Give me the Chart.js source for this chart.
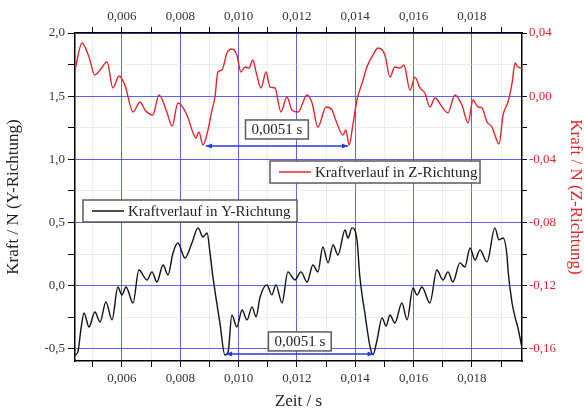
<!DOCTYPE html>
<html>
<head>
<meta charset="utf-8">
<script src="https://cdn.jsdelivr.net/npm/chart.js@4/dist/chart.umd.min.js"></script>
<style>
  html, body { margin: 0; padding: 0; background: #fff; }
  #wrap { width: 584px; height: 410px; }
</style>
</head>
<body>
<div id="wrap"><canvas id="forceChart" width="584" height="410"></canvas></div>
<script>
// Kraftverlauf in Z-Richtung (right axis, N)
const zTime = [
    0.00439, 0.00463, 0.00487, 0.00507, 0.00525, 0.00549, 0.00569, 0.00590, 0.00610, 0.00638,
    0.00662, 0.00679, 0.00706, 0.00727, 0.00754, 0.00772, 0.00792, 0.00823, 0.00844, 0.00854,
    0.00864, 0.00878, 0.00895, 0.00909, 0.00919, 0.00929, 0.00943, 0.00960, 0.00977, 0.00994,
    0.01008, 0.01022, 0.01036, 0.01049, 0.01060, 0.01077, 0.01094, 0.01108, 0.01125, 0.01145,
    0.01166, 0.01183, 0.01204, 0.01235, 0.01252, 0.01272, 0.01300, 0.01320, 0.01337, 0.01358,
    0.01368, 0.01379, 0.01392, 0.01406, 0.01427, 0.01440, 0.01461, 0.01478, 0.01502, 0.01519,
    0.01536, 0.01554, 0.01567, 0.01588, 0.01605, 0.01622, 0.01639, 0.01656, 0.01674, 0.01698,
    0.01718, 0.01742, 0.01766, 0.01787, 0.01804, 0.01821, 0.01835, 0.01852, 0.01869, 0.01879,
    0.01893, 0.01907, 0.01924, 0.01938, 0.01948, 0.01958, 0.01972
];
const zForce = [
    0.0166, 0.0337, 0.0248, 0.0134, 0.0166, 0.0216, 0.0052, 0.0128, 0.0071, -0.0100,
    -0.0037, -0.0087, -0.0119, 0.0008, -0.0100, -0.0189, -0.0043, -0.0119, -0.0233, -0.0265,
    -0.0227, -0.0309, -0.0214, -0.0087, -0.0005, 0.0153, 0.0166, 0.0273, 0.0299, 0.0261,
    0.0153, 0.0185, 0.0178, 0.0229, 0.0153, 0.0052, 0.0153, 0.0058, 0.0052, -0.0100,
    -0.0005, -0.0087, -0.0100, 0.0008, -0.0043, -0.0195, -0.0068, -0.0087, -0.0170, -0.0246,
    -0.0214, -0.0309, -0.0182, -0.0024, 0.0102, 0.0185, 0.0261, 0.0305, 0.0261, 0.0121,
    0.0185, 0.0178, 0.0197, 0.0039, 0.0121, 0.0052, 0.0020, -0.0068, -0.0011, -0.0068,
    -0.0106, 0.0008, -0.0056, -0.0170, -0.0024, -0.0068, -0.0075, -0.0163, -0.0195, -0.0246,
    -0.0303, -0.0119, -0.0037, 0.0084, 0.0210, 0.0185, 0.0178
];

// Kraftverlauf in Y-Richtung (left axis, N)
const yTime = [
    0.00439, 0.00449, 0.00459, 0.00470, 0.00487, 0.00507, 0.00525, 0.00545, 0.00566, 0.00586,
    0.00600, 0.00614, 0.00638, 0.00658, 0.00686, 0.00703, 0.00720, 0.00741, 0.00758, 0.00775,
    0.00792, 0.00816, 0.00840, 0.00861, 0.00878, 0.00892, 0.00902, 0.00912, 0.00936, 0.00953,
    0.00964, 0.00977, 0.00994, 0.01012, 0.01029, 0.01046, 0.01060, 0.01073, 0.01097, 0.01114,
    0.01128, 0.01149, 0.01169, 0.01193, 0.01214, 0.01235, 0.01255, 0.01272, 0.01289, 0.01307,
    0.01324, 0.01341, 0.01365, 0.01375, 0.01389, 0.01406, 0.01416, 0.01433, 0.01451, 0.01461,
    0.01475, 0.01492, 0.01506, 0.01519, 0.01536, 0.01560, 0.01578, 0.01598, 0.01612, 0.01629,
    0.01656, 0.01680, 0.01701, 0.01718, 0.01735, 0.01759, 0.01776, 0.01794, 0.01811, 0.01828,
    0.01852, 0.01879, 0.01893, 0.01907, 0.01921, 0.01924, 0.01938, 0.01948, 0.01958, 0.01972
];
const yForce = [
    -0.547, -0.523, -0.349, -0.215, -0.326, -0.207, -0.286, -0.128, -0.270, -0.009,
    -0.072, -0.009, -0.136, 0.125, 0.046, 0.110, 0.030, 0.165, 0.086, 0.260,
    0.339, 0.220, 0.339, 0.458, 0.386, 0.418, 0.260, 0.070, -0.294, -0.547,
    -0.523, -0.231, -0.326, -0.191, -0.270, -0.167, -0.246, -0.096, 0.007, -0.072,
    0.007, -0.136, 0.110, 0.046, 0.110, 0.030, 0.165, 0.110, 0.307, 0.181,
    0.323, 0.244, 0.442, 0.378, 0.458, 0.363, 0.070, -0.215, -0.484, -0.547,
    -0.428, -0.254, -0.318, -0.231, -0.294, -0.136, -0.270, -0.017, -0.072, -0.009,
    -0.136, 0.125, 0.046, 0.110, 0.030, 0.181, 0.149, 0.299, 0.204, 0.284,
    0.189, 0.458, 0.363, 0.378, 0.228, 0.125, -0.136, -0.246, -0.333, -0.492
];

// axis ticks
const xMajorTicks = [0.006, 0.008, 0.010, 0.012, 0.014, 0.016, 0.018];
const xMinorTicks = [0.005, 0.007, 0.009, 0.011, 0.013, 0.015, 0.017, 0.019];
const yMajorTicks = [-0.5, 0.0, 0.5, 1.0, 1.5, 2.0];
const yMinorTicks = [-0.25, 0.25, 0.75, 1.25, 1.75];
const zMajorTicks = [-0.16, -0.12, -0.08, -0.04, 0.00, 0.04];
const zMinorTicks = [-0.14, -0.10, -0.06, -0.02, 0.02];

// axis ranges
const xRange = [0.00439, 0.01972];
const yRange = [-0.595, 2.0];
const zRange = [-0.1676, 0.04];

// period markers (0,0051 s)
const periodLabels = ['0,0051 s', '0,0051 s'];
const periodStart = [0.00888, 0.00957];
const periodEnd = [0.01375, 0.01463];
const periodLevel = [-0.0315, -0.539];
const periodAxis = ['y2', 'y'];

const RED = '#e3262b';
const SERIF = '"Liberation Serif", "DejaVu Serif", serif';

const isIn = (arr, v) => arr.some(a => Math.abs(a - v) < 1e-9);
const toPoints = (xs, ys) => xs.map((x, i) => ({ x: x, y: ys[i] }));
const comma = (v, d) => v.toFixed(d).replace('.', ',');
const setTicks = list => axis => {
    axis.ticks = list.slice().sort((a, b) => a - b).map(v => ({ value: v }));
};

const gridColor = (major) => ctx => {
    const v = ctx.tick ? ctx.tick.value : null;
    return v !== null && isIn(major, v) ? 'rgba(70,70,235,0.85)' : 'rgba(200,225,200,0.45)';
};

// draws both framed legend boxes
const boxLegendPlugin = {
    id: 'boxLegends',
    afterDraw(chart) {
        const ctx = chart.ctx;
        const items = [
            { text: 'Kraftverlauf in Z-Richtung', color: RED, x: 270, y: 161, w: 210, h: 22 },
            { text: 'Kraftverlauf in Y-Richtung', color: '#111', x: 83, y: 200, w: 214, h: 22 }
        ];
        ctx.save();
        items.forEach(it => {
            ctx.fillStyle = '#fff';
            ctx.fillRect(it.x, it.y, it.w, it.h);
            ctx.strokeStyle = '#5a5a5a';
            ctx.lineWidth = 1.5;
            ctx.strokeRect(it.x, it.y, it.w, it.h);
            const my = it.y + it.h / 2;
            ctx.strokeStyle = it.color;
            ctx.lineWidth = 1.5;
            ctx.beginPath();
            ctx.moveTo(it.x + 9, my);
            ctx.lineTo(it.x + 41, my);
            ctx.stroke();
            ctx.fillStyle = '#222';
            ctx.font = '15px ' + SERIF;
            ctx.textBaseline = 'middle';
            ctx.textAlign = 'left';
            ctx.fillText(it.text, it.x + 45, my + 1);
        });
        ctx.restore();
    }
};

// draws the double arrows with their value boxes
const periodPlugin = {
    id: 'periodMarkers',
    afterDatasetsDraw(chart) {
        const ctx = chart.ctx;
        const xs = chart.scales.x;
        const boxGap = [7, 3];
        ctx.save();
        periodLabels.forEach((label, i) => {
            const ys = chart.scales[periodAxis[i]];
            const x1 = xs.getPixelForValue(periodStart[i]);
            const x2 = xs.getPixelForValue(periodEnd[i]);
            const y = ys.getPixelForValue(periodLevel[i]);
            ctx.strokeStyle = '#2a3ad8';
            ctx.fillStyle = '#2a3ad8';
            ctx.lineWidth = 1.5;
            ctx.beginPath();
            ctx.moveTo(x1, y);
            ctx.lineTo(x2, y);
            ctx.stroke();
            [[x1, 1], [x2, -1]].forEach(([hx, dir]) => {
                ctx.beginPath();
                ctx.moveTo(hx, y);
                ctx.lineTo(hx + dir * 6, y - 2.5);
                ctx.lineTo(hx + dir * 6, y + 2.5);
                ctx.closePath();
                ctx.fill();
            });
            ctx.font = '15px ' + SERIF;
            const tw = ctx.measureText(label).width;
            const bw = tw + 12, bh = 19;
            const bx = (x1 + x2) / 2 - bw / 2;
            const by = y - boxGap[i] - bh;
            ctx.fillStyle = '#fff';
            ctx.fillRect(bx, by, bw, bh);
            ctx.strokeStyle = '#5a5a5a';
            ctx.lineWidth = 1.5;
            ctx.strokeRect(bx, by, bw, bh);
            ctx.fillStyle = '#222';
            ctx.textAlign = 'center';
            ctx.textBaseline = 'middle';
            ctx.fillText(label, bx + bw / 2, by + bh / 2 + 1);
        });
        ctx.restore();
    }
};

const tickFont = { family: SERIF, size: 13 };
const titleFont = { family: SERIF, size: 17, lineHeight: 1 };

new Chart(document.getElementById('forceChart'), {
    type: 'line',
    data: {
        datasets: [
            {
                label: 'Kraftverlauf in Z-Richtung',
                data: toPoints(zTime, zForce),
                yAxisID: 'y2',
                borderColor: RED,
                borderWidth: 1.4,
                pointRadius: 0,
                cubicInterpolationMode: 'monotone'
            },
            {
                label: 'Kraftverlauf in Y-Richtung',
                data: toPoints(yTime, yForce),
                yAxisID: 'y',
                borderColor: '#111',
                borderWidth: 1.4,
                pointRadius: 0,
                cubicInterpolationMode: 'monotone'
            }
        ]
    },
    options: {
        responsive: false,
        animation: false,
        layout: { padding: 0 },
        plugins: { legend: { display: false }, tooltip: { enabled: false } },
        scales: {
            x: {
                type: 'linear',
                position: 'bottom',
                min: xRange[0],
                max: xRange[1],
                afterBuildTicks: setTicks(xMajorTicks.concat(xMinorTicks)),
                afterFit: s => { s.height = 49; },
                grid: { color: gridColor(xMajorTicks), tickColor: '#000', tickLength: 6, lineWidth: 1 },
                border: { color: '#000', width: 1.5 },
                ticks: {
                    autoSkip: false, maxRotation: 0, padding: 4, color: '#333', font: tickFont,
                    callback: v => isIn(xMajorTicks, v) ? comma(v, 3) : ''
                },
                title: { display: true, text: 'Zeit / s', color: '#222', font: titleFont, padding: 0 }
            },
            x2: {
                type: 'linear',
                position: 'top',
                min: xRange[0],
                max: xRange[1],
                afterBuildTicks: setTicks(xMajorTicks.concat(xMinorTicks)),
                afterFit: s => { s.height = 33; },
                grid: { drawOnChartArea: false, tickColor: '#000', tickLength: 6 },
                border: { color: '#000', width: 1.5 },
                ticks: {
                    autoSkip: false, maxRotation: 0, padding: 3, color: '#333', font: tickFont,
                    callback: v => isIn(xMajorTicks, v) ? comma(v, 3) : ''
                }
            },
            y: {
                type: 'linear',
                position: 'left',
                min: yRange[0],
                max: yRange[1],
                afterBuildTicks: setTicks(yMajorTicks.concat(yMinorTicks)),
                afterFit: s => { s.width = 75; },
                grid: { color: gridColor(yMajorTicks), tickColor: '#000', tickLength: 7, lineWidth: 1 },
                border: { color: '#000', width: 1.5 },
                ticks: {
                    autoSkip: false, padding: 3, color: '#333', font: tickFont,
                    callback: v => isIn(yMajorTicks, v) ? comma(v, 1) : ''
                },
                title: { display: true, text: 'Kraft / N (Y-Richtung)', color: '#222', font: titleFont, padding: { top: 5 } }
            },
            y2: {
                type: 'linear',
                position: 'right',
                min: zRange[0],
                max: zRange[1],
                afterBuildTicks: setTicks(zMajorTicks.concat(zMinorTicks)),
                afterFit: s => { s.width = 62; },
                grid: { drawOnChartArea: false, tickColor: '#000', tickLength: 5 },
                border: { color: '#000', width: 1.5 },
                ticks: {
                    autoSkip: false, padding: 2, color: RED, font: tickFont,
                    callback: v => isIn(zMajorTicks, v) ? comma(v, 2) : ''
                },
                title: { display: true, text: 'Kraft / N (Z-Richtung)', color: RED, font: titleFont, padding: { top: 0 } }
            }
        }
    },
    plugins: [periodPlugin, boxLegendPlugin]
});
</script>
</body>
</html>
